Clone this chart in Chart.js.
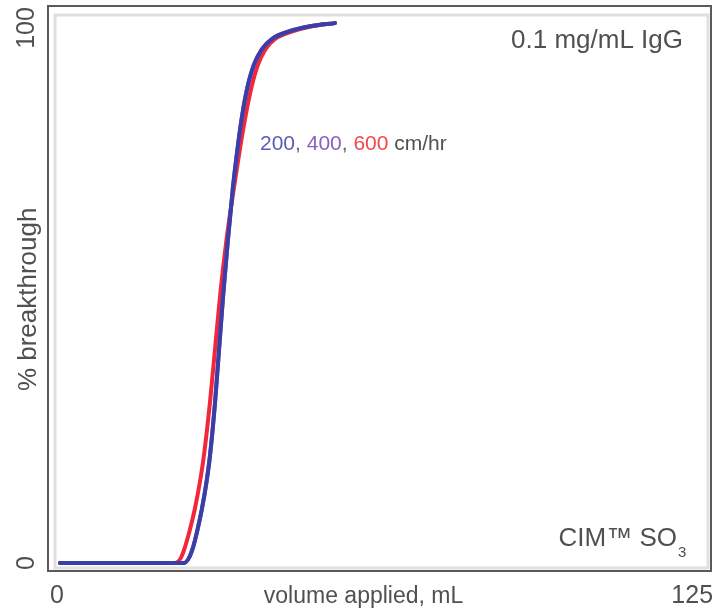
<!DOCTYPE html>
<html>
<head>
<meta charset="utf-8">
<script src="https://cdn.jsdelivr.net/npm/chart.js@4.4.1/dist/chart.umd.min.js"></script>
<style>
  html, body { margin: 0; padding: 0; background: #fff; }
  #wrap { width: 723px; height: 610px; position: relative; }
</style>
</head>
<body>
<div id="wrap"><canvas id="myChart"></canvas></div>
<script>
// volume applied (mL) vs % breakthrough
var vol200 = [0.6, 25.0, 26.0, 26.8, 27.6, 28.5, 29.4, 30.1, 31.1, 31.9, 32.7, 33.6, 34.6, 35.6, 36.5, 37.5, 38.7, 40.3, 42.4, 45.5, 49.8, 54.7];
var pct200 = [0, 0, 1, 3, 6, 10, 15, 20, 30, 40, 50, 60, 70, 78, 84, 89, 93, 96, 98, 99.3, 100.3, 100.9];
// 400 cm/hr lies under the 200 curve
var vol400 = [0.6, 25.0, 26.0, 26.8, 27.6, 28.5, 29.4, 30.1, 31.1, 31.9, 32.7, 33.6, 34.6, 35.6, 36.5, 37.5, 38.7, 40.3, 42.4, 45.5, 49.8, 54.7];
var pct400 = [0, 0, 1, 3, 6, 10, 15, 20, 30, 40, 50, 60, 70, 78, 84, 89, 93, 96, 98, 99.3, 100.3, 100.9];
var vol600 = [0.6, 23.2, 24.4, 25.2, 26.1, 27.1, 28.1, 28.9, 30.1, 31.1, 32.1, 33.3, 34.8, 36.1, 37.2, 38.3, 39.5, 41.0, 43.0, 46.2, 50.2, 54.7];
var pct600 = [0, 0, 1, 3, 6, 10, 15, 20, 30, 40, 50, 60, 70, 78, 84, 89, 93, 96, 98, 99.3, 100.3, 100.9];

var xTicks = [0, 125];
var yTicks = [0, 100];

var gray = "#505050";
var fontFam = "'Liberation Sans', Arial, sans-serif";
Chart.defaults.font.family = fontFam;

function pts(xs, ys) {
  return xs.map(function (v, i) { return { x: v, y: ys[i] }; });
}

// box with the light inner edge
var frame = {
  id: "frame",
  beforeDatasetsDraw: function (chart) {
    var a = chart.chartArea, c = chart.ctx;
    c.save();
    c.strokeStyle = "#e0e0e0";
    c.lineWidth = 3;
    c.beginPath();
    c.moveTo(a.left + 7, a.bottom - 3);
    c.lineTo(a.left + 7, a.top + 9);
    c.lineTo(a.right - 3, a.top + 9);
    c.lineTo(a.right - 3, a.bottom - 3);
    c.closePath();
    c.stroke();
    c.strokeStyle = "#5a5a5a";
    c.lineWidth = 2;
    c.strokeRect(a.left, a.top, a.right - a.left, a.bottom - a.top);
    c.restore();
  }
};

// notes inside the plot
var notes = {
  id: "notes",
  afterDatasetsDraw: function (chart) {
    var a = chart.chartArea, c = chart.ctx;
    c.save();
    c.textBaseline = "middle";
    c.fillStyle = gray;
    c.font = "26px " + fontFam;
    c.textAlign = "right";
    c.fillText("0.1 mg/mL IgG", a.right - 28, 41);

    c.font = "15px " + fontFam;
    c.textAlign = "left";
    c.fillText("3", a.right - 33, 553);
    c.font = "26px " + fontFam;
    c.textAlign = "right";
    c.fillText("CIM\u2122 SO", a.right - 34, 539);

    var parts = [["200", "#5b5db5"], [", ", "#666"], ["400", "#8c5fc0"], [", ", "#666"], ["600", "#f04848"], [" cm/hr", gray]];
    var x = 260;
    c.font = "21px " + fontFam;
    c.textAlign = "left";
    parts.forEach(function (p) {
      c.fillStyle = p[1];
      c.fillText(p[0], x, 144);
      x += c.measureText(p[0]).width;
    });
    c.restore();
  }
};

var ctx = document.getElementById("myChart").getContext("2d");
var myChart = new Chart(ctx, {
  type: "line",
  plugins: [frame, notes],
  data: {
    datasets: [
      { label: "200 cm/hr", data: pts(vol200, pct200), borderColor: "#3a3fa8" },
      { label: "400 cm/hr", data: pts(vol400, pct400), borderColor: "#7b4fb5" },
      { label: "600 cm/hr", data: pts(vol600, pct600), borderColor: "#f2283a" }
    ]
  },
  options: {
    responsive: true,
    maintainAspectRatio: false,
    animation: false,
    layout: { padding: { left: 0, right: 12, top: 6, bottom: 0 } },
    elements: {
      line: { borderWidth: 4, cubicInterpolationMode: "monotone", borderCapStyle: "round", fill: false },
      point: { radius: 0 }
    },
    plugins: {
      legend: { display: false },
      tooltip: { enabled: false }
    },
    scales: {
      x: {
        type: "linear",
        min: -1.77,
        max: 128.7,
        grid: { display: false, drawTicks: false },
        border: { display: false },
        afterBuildTicks: function (s) { s.ticks = xTicks.map(function (v) { return { value: v }; }); },
        afterFit: function (s) { s.height = 39; s.paddingLeft = 0; s.paddingRight = 0; },
        ticks: { color: gray, font: { size: 25 }, padding: 10, maxRotation: 0, autoSkip: false },
        title: {
          display: true,
          // trailing spaces move the centred title left, as in the source
          text: "volume applied, mL\u00a0\u00a0\u00a0\u00a0\u00a0",
          color: gray,
          font: { size: 23 },
          padding: { top: 0, bottom: 0 }
        }
      },
      y: {
        min: -1.5,
        max: 104.1,
        grid: { display: false, drawTicks: false },
        border: { display: false },
        afterBuildTicks: function (s) { s.ticks = yTicks.map(function (v) { return { value: v }; }); },
        afterFit: function (s) { s.width = 48; s.paddingTop = 0; s.paddingBottom = 0; },
        ticks: { color: gray, font: { size: 25 }, padding: 0, crossAlign: "center", minRotation: 90, maxRotation: 90 },
        title: {
          display: true,
          text: "% breakthrough\u00a0\u00a0\u00a0",
          color: gray,
          font: { size: 26 },
          padding: { top: 13, bottom: 0 }
        }
      }
    }
  }
});
</script>
</body>
</html>
